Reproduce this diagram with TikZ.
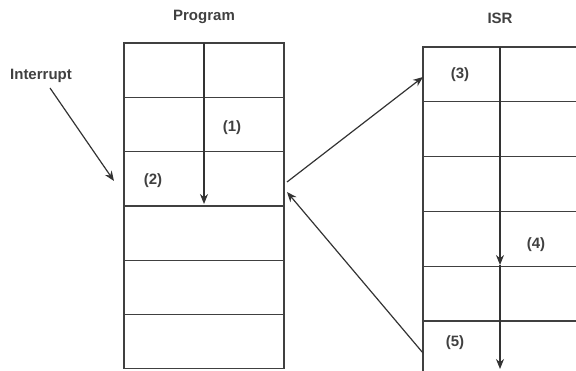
\documentclass[tikz,border=0pt]{standalone}
\usepackage{fontspec}
\setmainfont{Liberation Sans}
\usetikzlibrary{positioning,arrows.meta,calc}

\tikzset{
  slot/.style={draw=black!75, line width=1.2pt, rectangle, minimum height=54.3pt, inner sep=0pt},
  tag/.style={text=black!75, font=\fontsize{15}{17}\selectfont\bfseries, inner sep=1pt},
  flow/.style={draw=black!80, line width=1.2pt, -{Stealth[length=10pt,width=8pt]}}
}

\begin{document}
\begin{tikzpicture}[x=1pt, y=-1pt]
\clip (0,0) rectangle (576,371);
\useasboundingbox (0,0) rectangle (576,371);

% Program stack
\node[slot, minimum width=160pt] (p1) at (204,70.2) {};
\node[slot, minimum width=160pt] (p2) at (204,124.5) {};
\node[slot, minimum width=160pt] (p3) at (204,178.8) {};
\node[slot, minimum width=160pt] (p4) at (204,233.1) {};
\node[slot, minimum width=160pt] (p5) at (204,287.4) {};
\node[slot, minimum width=160pt] (p6) at (204,341.7) {};

% ISR stack (runs off the right edge)
\node[slot, minimum width=170pt, minimum height=54.8pt] (i1) at (508,74.4) {};
\node[slot, minimum width=170pt, minimum height=54.8pt] (i2) at (508,129.2) {};
\node[slot, minimum width=170pt, minimum height=54.8pt] (i3) at (508,184) {};
\node[slot, minimum width=170pt, minimum height=54.8pt] (i4) at (508,238.8) {};
\node[slot, minimum width=170pt, minimum height=54.8pt] (i5) at (508,293.6) {};
\node[slot, minimum width=170pt, minimum height=54.8pt] (i6) at (508,348.4) {};

% labels
\node[tag] (prog) at (204,17) {Program};
\node[tag] (isr) at (500,18) {ISR};
\node[tag] (int) at (41,76) {Interrupt};
\node[tag] (s1) at (232,128) {(1)};
\node[tag] (s2) at (153,181) {(2)};
\node[tag] (s3) at (460,75) {(3)};
\node[tag] (s4) at (536,245) {(4)};
\node[tag] (s5) at (455,343) {(5)};

% end points of the connectors
\coordinate (intstart) at (50,88);
\coordinate (intend) at (114,181);
\coordinate (pstart) at (204,43);
\coordinate (pend) at (204,204);
\coordinate (istart) at (500,47);
\coordinate (imid) at (500,265);
\coordinate (iend) at (500,369);
\coordinate (callout) at (287,182);
\coordinate (callin) at (423,77);
\coordinate (retout) at (423,353);
\coordinate (retin) at (287,192);

\draw[flow] (intstart) -- (intend);
\draw[flow] (pstart) -- (pend);
\draw[flow] (istart) -- (imid);
\draw[flow] (imid) -- (iend);
\draw[flow] (callout) -- (callin);
\draw[flow] (retout) -- (retin);
\end{tikzpicture}
\end{document}
